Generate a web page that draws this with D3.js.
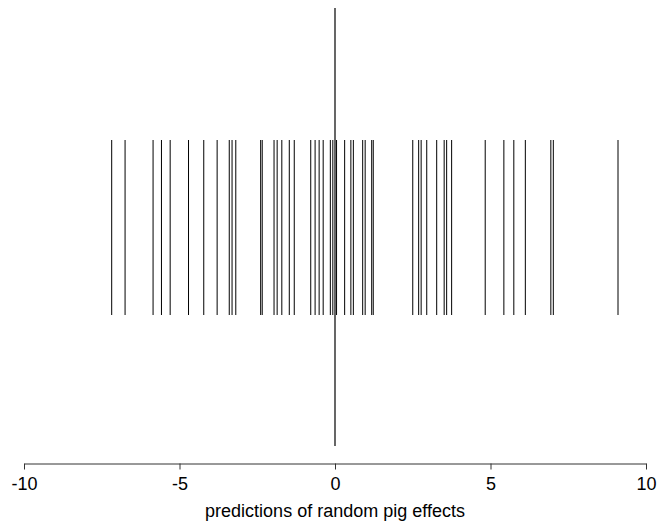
<!DOCTYPE html>
<html>
<head>
<meta charset="utf-8">
<script src="https://cdn.jsdelivr.net/npm/d3@7"></script>
<style>
  body { margin: 0; background: #fff; }
  svg { display: block; font-family: "Liberation Sans", Arial, sans-serif; }
</style>
</head>
<body>
<svg id="chart" width="657" height="526"></svg>
<script>
// predicted random pig effects (one rug line each)
const pigEffects = [
  -7.18, -6.75, -5.85, -5.58, -5.30, -4.71, -4.22, -3.79, -3.40, -3.31,
  -3.19, -2.39, -2.34, -1.96, -1.86, -1.71, -1.47, -1.31, -0.78, -0.64,
  -0.51, -0.38, -0.15, -0.07, 0.05, 0.31, 0.51, 0.59, 0.89, 0.97,
  1.18, 1.23, 2.50, 2.69, 2.77, 2.95, 3.27, 3.51, 3.59, 3.75,
  4.83, 5.43, 5.75, 6.12, 6.94, 7.02, 9.10
];
const xTicks = [-10, -5, 0, 5, 10];
const xTickLabels = ["-10", "-5", "0", "5", "10"];
const xDomain = [-10, 10];
const refLine = [0];
const xTitle = "predictions of random pig effects";

const svg = d3.select("#chart");
const margin = { left: 24, right: 11 };
const width = 657;

const x = d3.scaleLinear().domain(xDomain).range([margin.left, width - margin.right]);

// vertical band of lines
svg.append("g")
  .selectAll("line")
  .data(pigEffects)
  .join("line")
  .attr("x1", (d) => x(d))
  .attr("x2", (d) => x(d))
  .attr("y1", 140)
  .attr("y2", 315)
  .attr("stroke", "black")
  .attr("stroke-width", 1);

// reference line at zero
svg.append("g")
  .selectAll("line")
  .data(refLine)
  .join("line")
  .attr("x1", (d) => x(d))
  .attr("x2", (d) => x(d))
  .attr("y1", 8)
  .attr("y2", 446)
  .attr("stroke", "black")
  .attr("stroke-width", 1.2);

// x axis, plain hyphen labels like the original
const axis = svg.append("g")
  .attr("transform", "translate(0,463.5)")
  .call(d3.axisBottom(x)
    .tickValues(xTicks)
    .tickSize(6)
    .tickSizeOuter(0)
    .tickPadding(8)
    .tickFormat((d, i) => xTickLabels[i]));
axis.select(".domain").attr("stroke", "#333");
axis.selectAll(".tick line").attr("stroke", "#333");
axis.selectAll("text").attr("font-size", 18).attr("fill", "black")
  .attr("font-family", "Liberation Sans, Arial, sans-serif");

svg.append("text")
  .attr("x", x(0))
  .attr("y", 517)
  .attr("text-anchor", "middle")
  .attr("font-size", 18)
  .text(xTitle);
</script>
</body>
</html>
